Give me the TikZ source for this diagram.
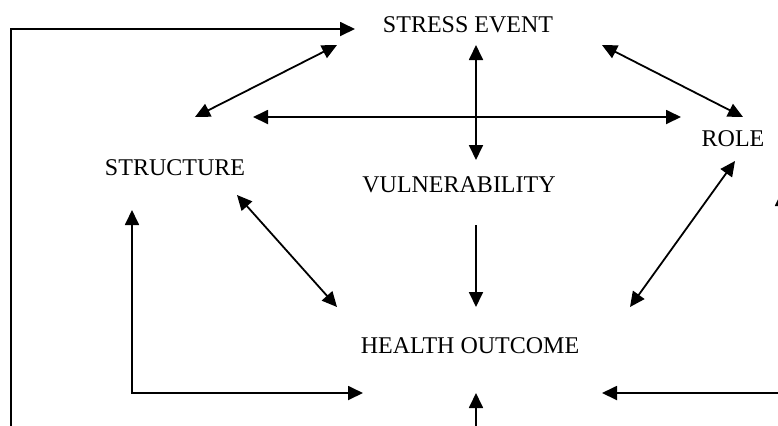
\documentclass[tikz,border=0pt]{standalone}
\usepackage{fontspec}
\setmainfont{Liberation Serif}
\usetikzlibrary{arrows.meta}
\begin{document}
\begin{tikzpicture}[x=0.5pt,y=-0.5pt,
  lbl/.style={font=\fontsize{12}{14}\selectfont, inner sep=0pt, anchor=base},
  con/.style={line width=0.9pt, line join=miter, -{Triangle[length=7.5pt,width=7pt]}},
  bicon/.style={line width=0.9pt, line join=miter, {Triangle[length=7.5pt,width=7pt]}-{Triangle[length=7.5pt,width=7pt]}}]
\useasboundingbox (0,0) rectangle (778,425);
\clip (0,0) rectangle (778,425);
% labels
\node[lbl] (stress) at (468,32) {STRESS EVENT};
\node[lbl] (structure) at (175,175) {STRUCTURE};
\node[lbl] (vuln) at (459,192) {VULNERABILITY};
\node[lbl] (role) at (733,146) {ROLE};
\node[lbl] (health) at (470,353) {HEALTH OUTCOME};
% connector end points
\coordinate (lb) at (11,432);
\coordinate (lt) at (11,29);
\coordinate (stL) at (355,29);
\coordinate (stSW) at (337,45);
\coordinate (strNE) at (195,117);
\coordinate (hL) at (253,117);
\coordinate (hR) at (681,117);
\coordinate (stV) at (476,45);
\coordinate (vuT) at (476,160);
\coordinate (stSE) at (602,45);
\coordinate (roNW) at (743,117);
\coordinate (strSE) at (237,195);
\coordinate (heNW) at (337,307);
\coordinate (vuB) at (476,225);
\coordinate (heT) at (476,307);
\coordinate (heNE) at (630,307);
\coordinate (roSW) at (735,161);
\coordinate (strB) at (132,210);
\coordinate (lc) at (132,393);
\coordinate (heL) at (363,393);
\coordinate (rt) at (782,191);
\coordinate (rc) at (782,393);
\coordinate (heR) at (602,393);
\coordinate (bb) at (476,432);
\coordinate (heB) at (476,393);
% connectors
\draw[con] (lb) -- (lt) -- (stL);
\draw[bicon] (strNE) -- (stSW);
\draw[bicon] (hL) -- (hR);
\draw[bicon] (stV) -- (vuT);
\draw[bicon] (stSE) -- (roNW);
\draw[bicon] (strSE) -- (heNW);
\draw[con] (vuB) -- (heT);
\draw[bicon] (heNE) -- (roSW);
\draw[bicon] (strB) -- (lc) -- (heL);
\draw[bicon] (rt) -- (rc) -- (heR);
\draw[con] (bb) -- (heB);
\end{tikzpicture}
\end{document}
